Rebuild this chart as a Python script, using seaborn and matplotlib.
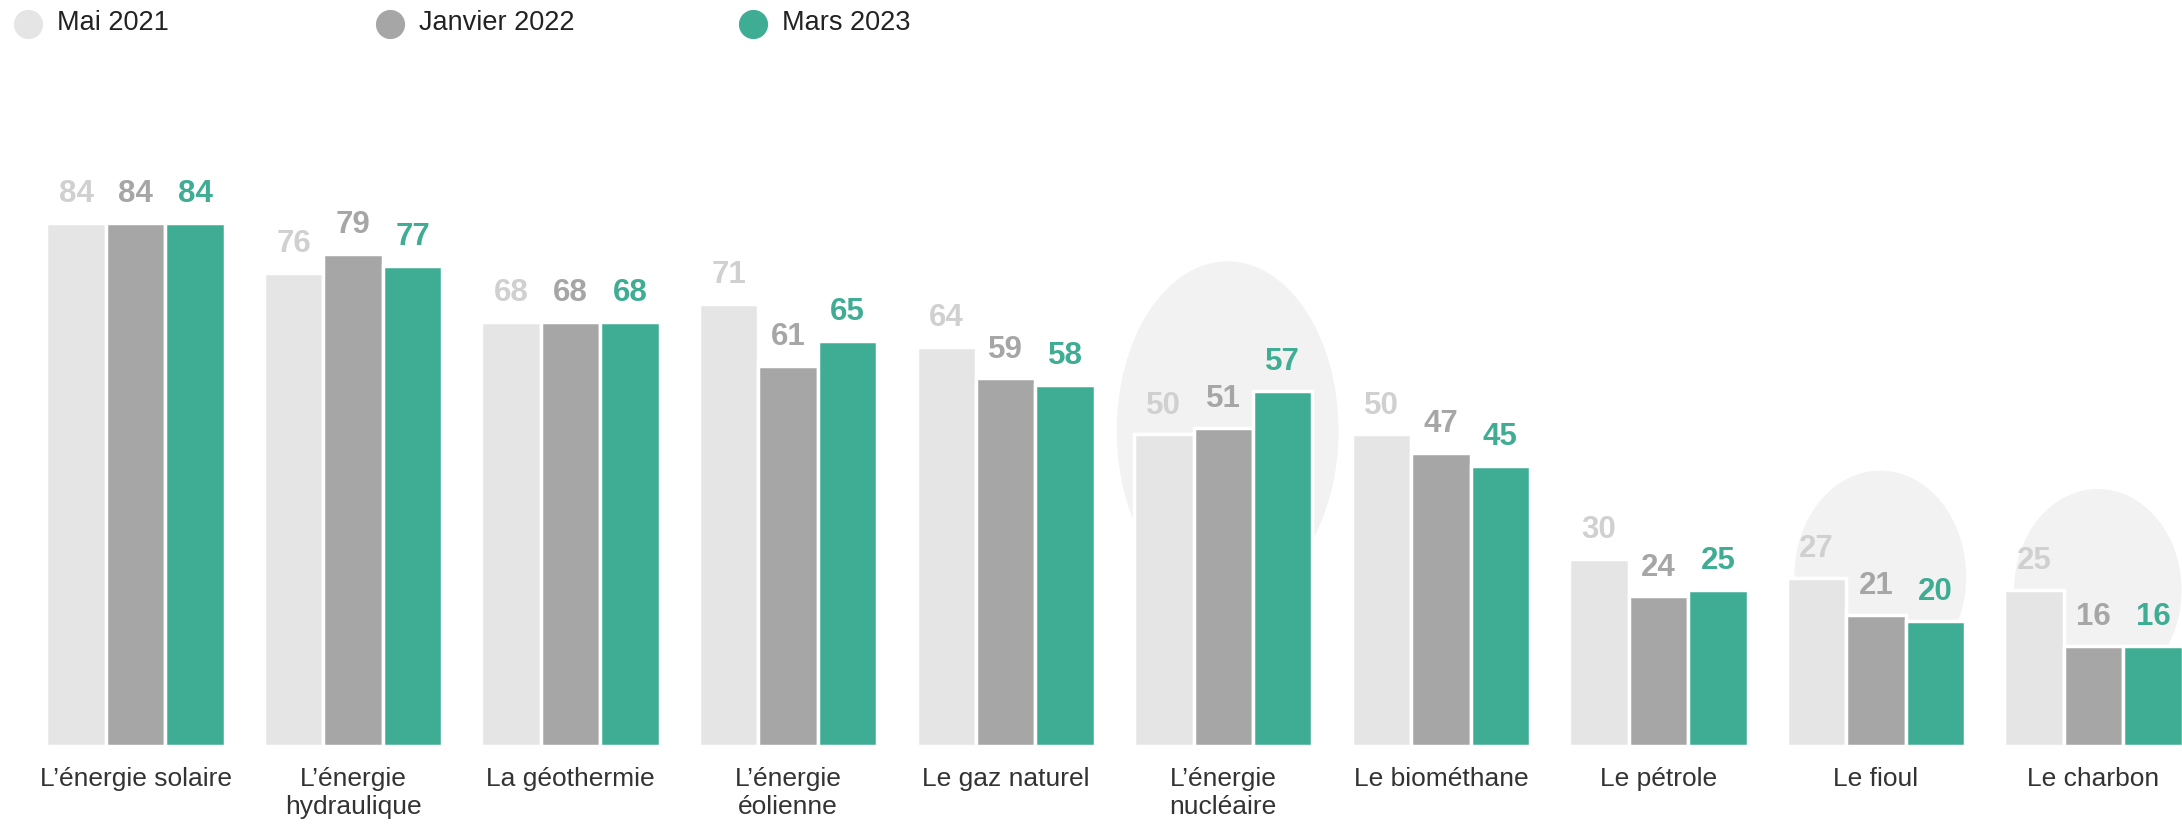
import pandas as pd
import numpy as np
import matplotlib.pyplot as plt
import seaborn as sns
from matplotlib import font_manager
from matplotlib.patches import Ellipse
from matplotlib.lines import Line2D

# ==========================================
# DATA
# ==========================================

sources = [
    "L’énergie solaire", "L’énergie\nhydraulique", "La géothermie",
    "L’énergie\néolienne", "Le gaz naturel", "L’énergie\nnucléaire",
    "Le biométhane", "Le pétrole", "Le fioul", "Le charbon",
]
periods = ["Mai 2021", "Janvier 2022", "Mars 2023"]

mai_2021 = [84, 76, 68, 71, 64, 50, 50, 30, 27, 25]
janvier_2022 = [84, 79, 68, 61, 59, 51, 47, 24, 21, 16]
mars_2023 = [84, 77, 68, 65, 58, 57, 45, 25, 20, 16]

bar_colors = ["#E5E5E5", "#A6A6A6", "#3EAD94"]
label_colors = ["#D0D0D0", "#A6A6A6", "#3EAD94"]

# highlighted groups: (category index, centre value, width, height)
highlights = [(5, 50.6, 1.02, 54.4), (8, 27.2, 0.79, 34.0), (9, 25.0, 0.77, 32.5)]

df = pd.DataFrame({
    "source": sources * 3,
    "periode": [p for p in periods for _ in sources],
    "valeur": mai_2021 + janvier_2022 + mars_2023,
})

# ==========================================
# FONTS
# ==========================================

bold_file = None
for f in font_manager.fontManager.ttflist:
    if f.name == "Liberation Sans" and f.weight in (700, "bold") \
            and f.style == "normal" and "Narrow" not in f.fname:
        bold_file = f.fname
        break

if bold_file:
    bold_font = font_manager.FontProperties(fname=bold_file, size=22.5)
else:
    bold_font = font_manager.FontProperties(family="DejaVu Sans", weight="bold", size=21)

# ==========================================
# PLOT
# ==========================================

sns.set_theme(style="white")
plt.rcParams["font.family"] = ["Liberation Sans", "DejaVu Sans"]

fig = plt.figure(figsize=(21.82, 8.27), dpi=100)
ax = fig.add_axes([0, 0.098, 1, 0.757])

for idx, cy, w, h in highlights:
    ax.add_patch(Ellipse((idx + 0.02, cy), w, h, facecolor="#F2F2F2",
                         edgecolor="none", zorder=0))

sns.barplot(
    data=df, x="source", y="valeur", hue="periode",
    palette=bar_colors, saturation=1, width=0.82,
    edgecolor="white", linewidth=2.5,
    legend=False, ax=ax, zorder=2,
)

for cont, col in zip(ax.containers, label_colors):
    ax.bar_label(cont, fmt="%d", padding=10, color=col,
                 fontproperties=bold_font)

ax.set_xlim(-0.623, 9.407)
ax.set_ylim(0, 100.5)
ax.set_xlabel("")
ax.set_ylabel("")
ax.set_yticks([])
ax.tick_params(axis="x", length=0, pad=15, labelsize=19, labelcolor="#333333")
sns.despine(ax=ax, left=True, bottom=True)

# legend
legend_x = [28, 390, 753]
for x, p, col in zip(legend_x, periods, bar_colors):
    fig.add_artist(Line2D([x / 2182], [1 - 23.5 / 827], marker="o",
                          markersize=20, color=col, linestyle="none",
                          transform=fig.transFigure))
    fig.text((x + 29) / 2182, 1 - 23.5 / 827, p, fontsize=19.5,
             color="#222222", va="center", ha="left")

fig.savefig("out.png", dpi=100)
plt.close()
